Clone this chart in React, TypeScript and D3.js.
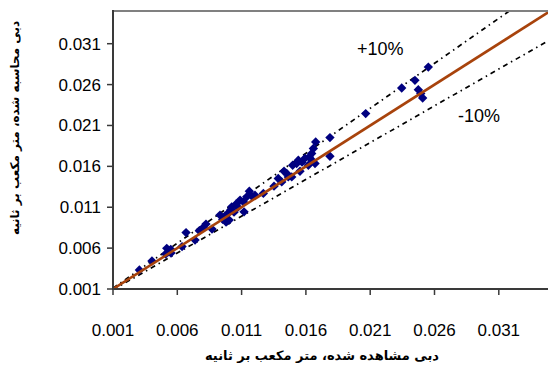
import React from "react";
import * as d3 from "d3";

const tickValues = [0.001, 0.006, 0.011, 0.016, 0.021, 0.026, 0.031];
const tickLabels = ["0.001", "0.006", "0.011", "0.016", "0.021", "0.026", "0.031"];
const observed = [
  0.00305, 0.00403, 0.00518, 0.00549, 0.0051, 0.00528, 0.00637, 0.00668, 0.00738, 0.00771,
  0.00802, 0.0087, 0.00932, 0.00953, 0.00971, 0.00992, 0.01015, 0.01004, 0.01023, 0.01056,
  0.01088, 0.01113, 0.01119, 0.0114, 0.0116, 0.01179, 0.01204, 0.01269, 0.01352, 0.01385,
  0.01412, 0.01451, 0.01463, 0.0149, 0.01497, 0.01528, 0.01541, 0.0157, 0.01619, 0.01626,
  0.01645, 0.01658, 0.01676, 0.01671, 0.01787, 0.01787, 0.02065, 0.02345, 0.02448, 0.02474,
  0.02493, 0.02508, 0.02552, 0.01041, 0.01072, 0.00823, 0.00551, 0.0143, 0.01593, 0.01647,
  0.00979, 0.01554,
];
const computed = [
  0.00332, 0.00442, 0.00597, 0.00585, 0.00527, 0.00555, 0.00619, 0.0079, 0.00698, 0.00812,
  0.00853, 0.00833, 0.01004, 0.00951, 0.00991, 0.01024, 0.01065, 0.00943, 0.01105, 0.01138,
  0.01187, 0.01166, 0.01044, 0.01227, 0.01297, 0.01236, 0.01248, 0.01269, 0.01358, 0.01452,
  0.0141, 0.01513, 0.01471, 0.01471, 0.01614, 0.01635, 0.01675, 0.01651, 0.01614, 0.01715,
  0.01757, 0.01818, 0.01899, 0.01635, 0.01952, 0.01724, 0.02245, 0.02558, 0.02652, 0.02538,
  0.0249, 0.02436, 0.02814, 0.0104, 0.01101, 0.00894, 0.0054, 0.0154, 0.017, 0.01675,
  0.00918, 0.0154,
];
const refRatios = [1, 1.1, 0.9];
const refLabels = ["+10%", "-10%"];
const xTitle = "دبی مشاهده شده، متر  مکعب  بر ثانیه";
const yTitle = "دبی محاسبه شده، متر  مکعب  بر ثانیه";

const W = 548;
const H = 371;
const left = 113;
const top = 11;
const bottom = 289;
const domain: [number, number] = [0.001, 0.035];

export default function App() {
  const x = d3.scaleLinear().domain(domain).range([left, left + (0.034 / 0.005) * 64.3]);
  const y = d3.scaleLinear().domain(domain).range([bottom, top]);
  const right = x(domain[1]);
  const sym = (d3 as any).symbolDiamond2 || d3.symbolDiamond;
  const diamond = d3.symbol().type(sym).size(56)() as string;
  const font = "'Liberation Sans', Arial, sans-serif";

  const refLine = (r: number) => {
    const x0 = domain[0];
    const x1 = Math.min(domain[1], domain[1] / r);
    return d3.line<number>().x((v) => x(v)).y((v) => y(v * r))([x0, x1]) as string;
  };

  return (
    <svg width={W} height={H} style={{ position: "absolute", left: 0, top: 0, background: "#fff" }}>
      <defs>
        <clipPath id="plot">
          <rect x={left} y={top} width={right - left} height={bottom - top} />
        </clipPath>
      </defs>
      <g clipPath="url(#plot)">
        {refRatios.slice(1).map((r) => (
          <path key={r} d={refLine(r)} stroke="#000" strokeWidth={1.7} strokeDasharray="5,4,1.5,4" fill="none" />
        ))}
        {observed.map((o, i) => (
          <path key={i} d={diamond} transform={`translate(${x(o)},${y(computed[i])})`} fill="#000080" />
        ))}
        <path d={refLine(refRatios[0])} stroke="#a8430c" strokeWidth={2.6} fill="none" />
      </g>
      <line x1={left} x2={right} y1={top} y2={top} stroke="#808080" strokeWidth={2} />
      <line x1={left} x2={left} y1={top - 1} y2={bottom + 1} stroke="#3a3a3a" strokeWidth={2} />
      <line x1={left - 1} x2={right} y1={bottom} y2={bottom} stroke="#3a3a3a" strokeWidth={2} />
      {tickValues.map((t, i) => (
        <g key={"x" + i}>
          <line x1={x(t)} x2={x(t)} y1={bottom} y2={bottom + 6} stroke="#3a3a3a" strokeWidth={1.5} />
          <text x={x(t)} y={336} textAnchor="middle" fontFamily={font} fontSize={17} fill="#000">
            {tickLabels[i]}
          </text>
        </g>
      ))}
      {tickValues.map((t, i) => (
        <g key={"y" + i}>
          <line x1={left - 6} x2={left} y1={y(t)} y2={y(t)} stroke="#3a3a3a" strokeWidth={1.5} />
          <text x={101} y={y(t) + 6} textAnchor="end" fontFamily={font} fontSize={17} fill="#000">
            {tickLabels[i]}
          </text>
        </g>
      ))}
      <text x={357} y={55} fontFamily={font} fontSize={18} fill="#000">{refLabels[0]}</text>
      <text x={458} y={122} fontFamily={font} fontSize={18} fill="#000">{refLabels[1]}</text>
      <text x={322} y={360} textAnchor="middle" fontFamily="'DejaVu Sans', sans-serif" fontWeight="bold" fontSize={13} fill="#000" direction="rtl">
        {xTitle}
      </text>
      <text
        transform="translate(19,128) rotate(-90)"
        textAnchor="middle"
        fontFamily="'DejaVu Sans', sans-serif"
        fontWeight="bold"
        fontSize={12}
        fill="#000"
        direction="rtl"
      >
        {yTitle}
      </text>
    </svg>
  );
}
